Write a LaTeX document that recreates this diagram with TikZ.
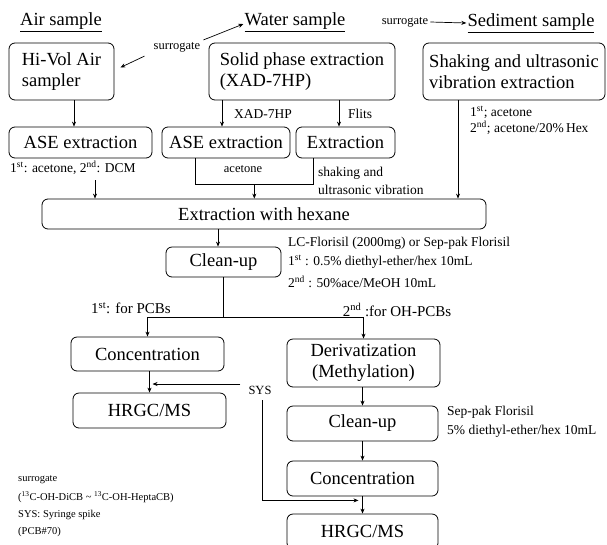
\documentclass[tikz,border=0pt]{standalone}
\usepackage{fontspec}
\setmainfont{Liberation Serif}
\usepackage{tikz}
\usetikzlibrary{arrows.meta, positioning, calc}

\begin{document}
\begin{tikzpicture}[
    x=1pt, y=-1pt,
    stepbox/.style={draw, rounded corners=6pt, line width=0.8pt, inner sep=0pt,
                    align=center, font=\fontsize{18.5}{21}\selectfont},
    head/.style={font=\fontsize{18.5}{21}\selectfont, inner sep=1pt},
    lbl/.style={font=\fontsize{13.5}{18}\selectfont, inner sep=0pt},
    note/.style={font=\fontsize{10.5}{14}\selectfont, inner sep=0pt, anchor=west},
    arr/.style={-{Stealth[length=5pt, width=4pt]}, line width=0.7pt},
    ln/.style={line width=0.7pt},
]
    \useasboundingbox (0,0) rectangle (607,544);
    \clip (0,0) rectangle (607,544);

    % Samples
    \node[head] (air) at (61,22) {\underline{Air sample}};
    \node[head] (water) at (295,22) {\underline{Water sample}};
    \node[head] (sed) at (531,23) {\underline{Sediment sample}};
    \node[lbl, font=\fontsize{12.5}{15}\selectfont] (surTop) at (405,22) {surrogate};
    \node[lbl, font=\fontsize{12.5}{15}\selectfont] (surMid) at (177,47) {surrogate};

    % First step
    \node[stepbox, align=left, minimum width=105pt, minimum height=57pt] (hivol) at (61.5,71.5) {Hi-Vol Air\\sampler};
    \node[stepbox, align=left, minimum width=186pt, minimum height=57pt] (spe) at (302,71.5) {Solid phase extraction\\(XAD-7HP)};
    \node[stepbox, align=left, minimum width=182pt, minimum height=57pt] (shake) at (514,71.5) {Shaking and ultrasonic\\vibration extraction};

    \draw[arr] ([xshift=2pt]surTop.east) -- (sed.west);
    \draw[arr] ([xshift=-9pt,yshift=-4pt]surMid.south west) -- ([xshift=6pt,yshift=4pt]hivol.east);
    \draw[arr] ([xshift=3pt,yshift=2pt]surMid.north east) -- ([yshift=-2pt]water.west);

    % Extraction
    \node[stepbox, minimum width=143pt, minimum height=31pt] (ase1) at (80.5,142.5) {ASE extraction};
    \node[stepbox, minimum width=128pt, minimum height=31pt] (ase2) at (226,142.5) {ASE extraction};
    \node[stepbox, minimum width=99pt, minimum height=31pt] (extr) at (345.5,142.5) {Extraction};

    \draw[arr] ([xshift=12.5pt]hivol.south) -- ([xshift=12.5pt]hivol.south |- ase1.north);
    \draw[arr] ([xshift=-4pt]ase2.north |- spe.south) -- ([xshift=-4pt]ase2.north);
    \node[lbl, anchor=west] (xad) at (234,114) {XAD-7HP};
    \draw[arr] ([xshift=-6.5pt]extr.north |- spe.south) -- ([xshift=-6.5pt]extr.north);
    \node[lbl, anchor=west] (flits) at (348,114) {Flits};
    \node[lbl, anchor=west] (sol1) at (470,112) {1\textsuperscript{st}; acetone};
    \node[lbl, anchor=west] (sol2) at (470,128) {2\textsuperscript{nd}; acetone/20\%\,Hex};

    \node[lbl, anchor=west] (ase1lbl) at (10,168) {1\textsuperscript{st}: acetone, 2\textsuperscript{nd}: DCM};
    \node[lbl, font=\fontsize{12.5}{15}\selectfont] (acet) at (243,169) {acetone};
    \node[lbl, anchor=west, align=left] (shk) at (318,181) {shaking and\\ultrasonic vibration};

    % Hexane and clean-up
    \node[stepbox, minimum width=444pt, minimum height=30pt] (hex) at (264,214) {Extraction with hexane};
    \node[stepbox, minimum width=115pt, minimum height=30pt] (clean1) at (223.5,262) {Clean-up};

    \draw[arr] ([xshift=14.5pt,yshift=-5pt]ase1.south |- ase1lbl.south) -- ([xshift=14.5pt]ase1.south |- hex.north);
    \draw[ln] ([xshift=-31pt]ase2.south) |- ([xshift=18pt,yshift=-26pt]extr.south west) coordinate (brk) -- ([xshift=18pt]extr.south west);
    \coordinate (brkmid) at ($([xshift=-31pt,yshift=-26pt]ase2.south)!0.5!(brk)$);
    \draw[arr] (brkmid) -- (brkmid |- hex.north);
    \draw[arr] ([xshift=-56pt]shake.south) -- ([xshift=-56pt]shake.south |- hex.north);
    \draw[arr] ([xshift=-5.5pt]clean1.north |- hex.south) -- ([xshift=-5.5pt]clean1.north);

    \node[lbl, anchor=west] (cl1) at (288,243) {LC-Florisil (2000mg) or Sep-pak Florisil};
    \node[lbl, anchor=west] (cl2) at (288,262) {1\textsuperscript{st} : 0.5\% diethyl-ether/hex 10mL};
    \node[lbl, anchor=west] (cl3) at (288,282) {2\textsuperscript{nd} : 50\%ace/MeOH 10mL};

    % PCBs
    \node[stepbox, minimum width=153pt, minimum height=34pt] (conc1) at (147.5,354) {Concentration};
    \node[stepbox, minimum width=153pt, minimum height=35pt] (hrgc1) at (149.5,410.5) {HRGC/MS};

    % OH-PCBs
    \node[stepbox, minimum width=153pt, minimum height=48pt] (deriv) at (363.5,363) {Derivatization\\(Methylation)};
    \node[stepbox, minimum width=151pt, minimum height=35pt] (clean2) at (362.5,423.5) {Clean-up};
    \node[stepbox, minimum width=151pt, minimum height=35pt] (conc2) at (362.5,478.5) {Concentration};
    \node[stepbox, minimum width=151pt, minimum height=35pt] (hrgc2) at (362.5,531.5) {HRGC/MS};

    \draw[ln] (clean1.south) -- ++(0,40) coordinate (fork);
    \draw[arr] (fork) -| (conc1.north);
    \draw[arr] (fork) -| (deriv.north);
    \node[lbl, font=\fontsize{15}{18}\selectfont] (pcb) at (131,308) {1\textsuperscript{st}: for PCBs};
    \node[lbl, font=\fontsize{15}{18}\selectfont] (ohpcb) at (397,310) {2\textsuperscript{nd} :for OH-PCBs};

    \draw[arr] (conc1.south -| hrgc1.north) -- (hrgc1.north);
    \node[lbl, font=\fontsize{12.5}{15}\selectfont] (sys) at (260,390) {SYS};
    \draw[arr] ([xshift=-8pt,yshift=6pt]sys.west) -- ([xshift=3pt,yshift=6pt]sys.west -| hrgc1.north);
    \draw[arr] ([xshift=2pt,yshift=-6pt]sys.south) |- ([xshift=-4pt,yshift=-4pt]conc2.south);

    \draw[arr] (deriv.south -| clean2.north) -- (clean2.north);
    \draw[arr] (clean2.south) -- (conc2.north);
    \draw[arr] (conc2.south) -- (hrgc2.north);
    \node[lbl, anchor=west] (sp1) at (447,412) {Sep-pak Florisil};
    \node[lbl, anchor=west] (sp2) at (447,431) {5\% diethyl-ether/hex 10mL};

    % Notes
    \node[note] (n1) at (18,480) {surrogate};
    \node[note] (n2) at (18,497) {(\textsuperscript{13}C-OH-DiCB \textasciitilde{} \textsuperscript{13}C-OH-HeptaCB)};
    \node[note] (n3) at (18,515) {SYS: Syringe spike};
    \node[note] (n4) at (18,532) {(PCB\#70)};
\end{tikzpicture}
\end{document}
